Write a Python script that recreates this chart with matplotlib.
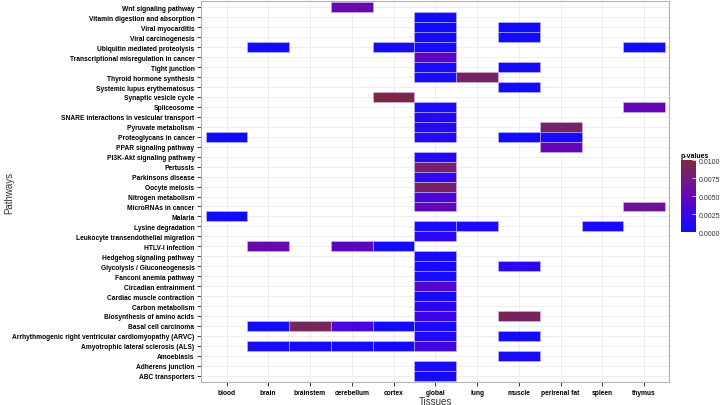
import numpy as np
import matplotlib
matplotlib.use("Agg")
import matplotlib.pyplot as plt
from matplotlib.colors import LinearSegmentedColormap, Normalize
from matplotlib.cm import ScalarMappable

## Les donnees
tissues = ["blood", "brain", "brainstem", "cerebellum", "cortex", "global",
           "lung", "muscle", "perirenal fat", "spleen", "thymus"]

# de haut en bas
pathways = ["Wnt signaling pathway", "Vitamin digestion and absorption",
            "Viral myocarditis", "Viral carcinogenesis",
            "Ubiquitin mediated proteolysis",
            "Transcriptional misregulation in cancer", "Tight junction",
            "Thyroid hormone synthesis", "Systemic lupus erythematosus",
            "Synaptic vesicle cycle", "Spliceosome",
            "SNARE interactions in vesicular transport", "Pyruvate metabolism",
            "Proteoglycans in cancer", "PPAR signaling pathway",
            "PI3K-Akt signaling pathway", "Pertussis", "Parkinsons disease",
            "Oocyte meiosis", "Nitrogen metabolism", "MicroRNAs in cancer",
            "Malaria", "Lysine degradation",
            "Leukocyte transendothelial migration", "HTLV-I infection",
            "Hedgehog signaling pathway", "Glycolysis / Gluconeogenesis",
            "Fanconi anemia pathway", "Circadian entrainment",
            "Cardiac muscle contraction", "Carbon metabolism",
            "Biosynthesis of amino acids", "Basal cell carcinoma",
            "Arrhythmogenic right ventricular cardiomyopathy (ARVC)",
            "Amyotrophic lateral sclerosis (ALS)", "Amoebiasis",
            "Adherens junction", "ABC transporters"]

# (pathway, tissue, p-value)
hit_path = [
    "Wnt signaling pathway",
    "Vitamin digestion and absorption",
    "Viral myocarditis", "Viral myocarditis",
    "Viral carcinogenesis", "Viral carcinogenesis",
    "Ubiquitin mediated proteolysis", "Ubiquitin mediated proteolysis",
    "Ubiquitin mediated proteolysis", "Ubiquitin mediated proteolysis",
    "Transcriptional misregulation in cancer",
    "Tight junction", "Tight junction",
    "Thyroid hormone synthesis", "Thyroid hormone synthesis",
    "Systemic lupus erythematosus",
    "Synaptic vesicle cycle",
    "Spliceosome", "Spliceosome",
    "SNARE interactions in vesicular transport",
    "Pyruvate metabolism", "Pyruvate metabolism",
    "Proteoglycans in cancer", "Proteoglycans in cancer",
    "Proteoglycans in cancer", "Proteoglycans in cancer",
    "PPAR signaling pathway",
    "PI3K-Akt signaling pathway",
    "Pertussis",
    "Parkinsons disease",
    "Oocyte meiosis",
    "Nitrogen metabolism",
    "MicroRNAs in cancer", "MicroRNAs in cancer",
    "Malaria",
    "Lysine degradation", "Lysine degradation", "Lysine degradation",
    "Leukocyte transendothelial migration",
    "HTLV-I infection", "HTLV-I infection", "HTLV-I infection",
    "Hedgehog signaling pathway",
    "Glycolysis / Gluconeogenesis", "Glycolysis / Gluconeogenesis",
    "Fanconi anemia pathway",
    "Circadian entrainment",
    "Cardiac muscle contraction",
    "Carbon metabolism",
    "Biosynthesis of amino acids", "Biosynthesis of amino acids",
    "Basal cell carcinoma", "Basal cell carcinoma", "Basal cell carcinoma",
    "Basal cell carcinoma", "Basal cell carcinoma",
    "Arrhythmogenic right ventricular cardiomyopathy (ARVC)",
    "Arrhythmogenic right ventricular cardiomyopathy (ARVC)",
    "Amyotrophic lateral sclerosis (ALS)", "Amyotrophic lateral sclerosis (ALS)",
    "Amyotrophic lateral sclerosis (ALS)", "Amyotrophic lateral sclerosis (ALS)",
    "Amyotrophic lateral sclerosis (ALS)",
    "Amoebiasis",
    "Adherens junction",
    "ABC transporters",
]
hit_tissue = [
    "cerebellum",
    "global",
    "global", "muscle",
    "global", "muscle",
    "brain", "cortex", "global", "thymus",
    "global",
    "global", "muscle",
    "global", "lung",
    "muscle",
    "cortex",
    "global", "thymus",
    "global",
    "global", "perirenal fat",
    "blood", "global", "muscle", "perirenal fat",
    "perirenal fat",
    "global",
    "global",
    "global",
    "global",
    "global",
    "global", "thymus",
    "blood",
    "global", "lung", "spleen",
    "global",
    "brain", "cerebellum", "cortex",
    "global",
    "global", "muscle",
    "global",
    "global",
    "global",
    "global",
    "global", "muscle",
    "brain", "brainstem", "cerebellum", "cortex", "global",
    "global", "muscle",
    "brain", "brainstem", "cerebellum", "cortex", "global",
    "muscle",
    "global",
    "global",
]
hit_p = [
    0.0055,
    0.0004,
    0.0004, 0.0003,
    0.0005, 0.0004,
    0.0005, 0.0006, 0.0006, 0.0005,
    0.0045,
    0.0006, 0.0004,
    0.0006, 0.0085,
    0.0004,
    0.0095,
    0.0006, 0.0050,
    0.0012,
    0.0013, 0.0085,
    0.0003, 0.0012, 0.0004, 0.0008,
    0.0050,
    0.0012,
    0.0082,
    0.0020,
    0.0085,
    0.0035,
    0.0050, 0.0065,
    0.0003,
    0.0006, 0.0007, 0.0006,
    0.0015,
    0.0055, 0.0045, 0.0005,
    0.0006,
    0.0004, 0.0015,
    0.0007,
    0.0040,
    0.0007,
    0.0015,
    0.0025, 0.0088,
    0.0004, 0.0090, 0.0032, 0.0005, 0.0007,
    0.0009, 0.0005,
    0.0008, 0.0008, 0.0008, 0.0004, 0.0030,
    0.0006,
    0.0008,
    0.0004,
]

## Les positions des tuiles
rows = pathways[::-1]   # ABC en bas
xs = [tissues.index(t) for t in hit_tissue]
ys = [rows.index(p) for p in hit_path]

cmap = LinearSegmentedColormap.from_list(
    "pv", ["#0c0cff", "#3c06e8", "#6406b8", "#741c80", "#7b2b3c"])
norm = Normalize(vmin=0, vmax=0.01)

## La figure
plt.rcParams['font.family'] = ['Liberation Sans', 'DejaVu Sans']
fig = plt.figure(figsize=(7.22, 4.06), dpi=100)
ax = fig.add_axes([0.279, 0.0574, 0.648, 0.9366])

ax.bar(xs, 1, bottom=np.array(ys) - 0.5, width=1, align="center",
       color=cmap(norm(hit_p)), edgecolor=(0.8, 0.75, 1, 0.6),
       linewidth=0.6, zorder=2)

ax.set_xlim(-0.6, len(tissues) - 0.4)
ax.set_ylim(-0.6, len(rows) - 0.4)
ax.set_xticks(range(len(tissues)))
ax.set_xticklabels(tissues, fontsize=4.8, fontweight="bold")
ax.set_yticks(range(len(rows)))
ax.set_yticklabels(rows, fontsize=4.75, fontweight="bold")
ax.tick_params(length=3, width=0.7, color="#333333", pad=2)
ax.grid(True, color="#ebebeb", linewidth=0.6, zorder=0)
ax.set_axisbelow(True)
for s in ax.spines.values():
    s.set_color("#b3b3b3")
    s.set_linewidth(0.8)

ax.set_xlabel("Tissues", fontsize=7, color="#333333", labelpad=0)
fig.text(9 / 722, 0.526, "Pathways", fontsize=7, color="#333333",
         rotation=90, ha="center", va="center")

## La legende
cax = fig.add_axes([0.943, 0.426, 0.021, 0.177])
cb = fig.colorbar(ScalarMappable(norm=norm, cmap=cmap), cax=cax,
                  ticks=[0, 0.0025, 0.005, 0.0075, 0.01])
cb.ax.set_yticklabels(["0.0000", "0.0025", "0.0050", "0.0075", "0.0100"],
                      fontsize=5, color="#333333")
cb.ax.tick_params(length=3, width=0.5, color="white", direction="in", pad=2)
cb.outline.set_visible(False)
fig.text(0.943, 0.607, "p-values", fontsize=5, fontweight="bold",
         ha="left", va="bottom")

fig.savefig("out.png", dpi=100)
